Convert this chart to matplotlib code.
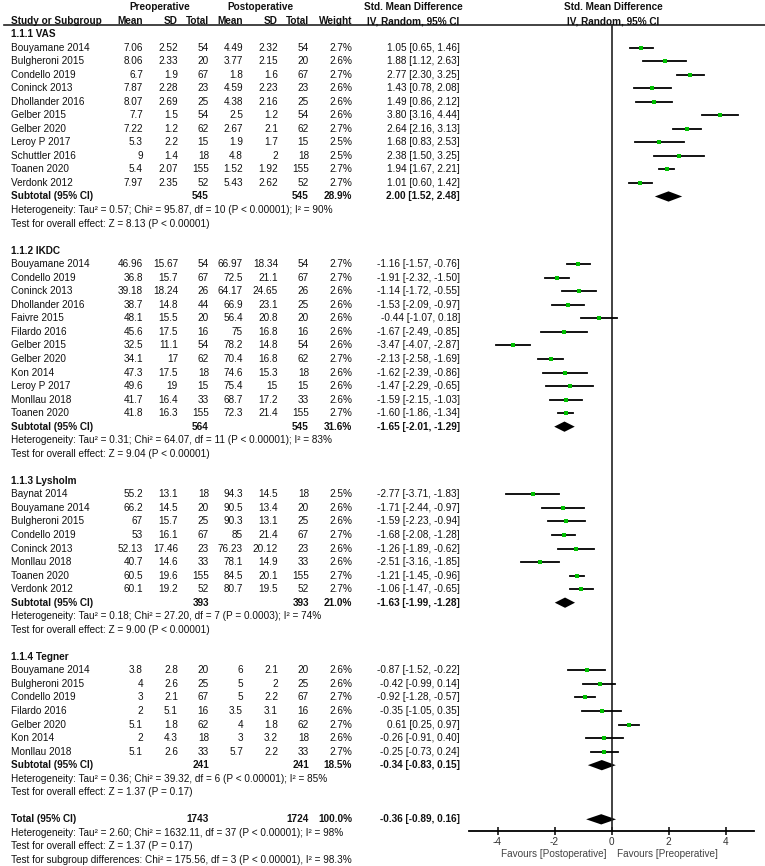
import matplotlib.pyplot as plt

plt.rcParams['font.family'] = ['Liberation Sans', 'DejaVu Sans']

# 1.1.1 VAS
vas_study = ['Bouyamane 2014', 'Bulgheroni 2015', 'Condello 2019', 'Coninck 2013', 'Dhollander 2016',
             'Gelber 2015', 'Gelber 2020', 'Leroy P 2017', 'Schuttler 2016', 'Toanen 2020', 'Verdonk 2012']
vas_pre_mean = [7.06, 8.06, 6.7, 7.87, 8.07, 7.7, 7.22, 5.3, 9, 5.4, 7.97]
vas_pre_sd = [2.52, 2.33, 1.9, 2.28, 2.69, 1.5, 1.2, 2.2, 1.4, 2.07, 2.35]
vas_pre_n = [54, 20, 67, 23, 25, 54, 62, 15, 18, 155, 52]
vas_post_mean = [4.49, 3.77, 1.8, 4.59, 4.38, 2.5, 2.67, 1.9, 4.8, 1.52, 5.43]
vas_post_sd = [2.32, 2.15, 1.6, 2.23, 2.16, 1.2, 2.1, 1.7, 2, 1.92, 2.62]
vas_post_n = [54, 20, 67, 23, 25, 54, 62, 15, 18, 155, 52]
vas_weight = [2.7, 2.6, 2.7, 2.6, 2.6, 2.6, 2.7, 2.5, 2.5, 2.7, 2.7]
vas_smd = [1.05, 1.88, 2.77, 1.43, 1.49, 3.80, 2.64, 1.68, 2.38, 1.94, 1.01]
vas_lo = [0.65, 1.12, 2.30, 0.78, 0.86, 3.16, 2.16, 0.83, 1.50, 1.67, 0.60]
vas_hi = [1.46, 2.63, 3.25, 2.08, 2.12, 4.44, 3.13, 2.53, 3.25, 2.21, 1.42]
vas_sub = [545, 545, 28.9, 2.00, 1.52, 2.48]

# 1.1.2 IKDC
ikdc_study = ['Bouyamane 2014', 'Condello 2019', 'Coninck 2013', 'Dhollander 2016', 'Faivre 2015', 'Filardo 2016',
              'Gelber 2015', 'Gelber 2020', 'Kon 2014', 'Leroy P 2017', 'Monllau 2018', 'Toanen 2020']
ikdc_pre_mean = [46.96, 36.8, 39.18, 38.7, 48.1, 45.6, 32.5, 34.1, 47.3, 49.6, 41.7, 41.8]
ikdc_pre_sd = [15.67, 15.7, 18.24, 14.8, 15.5, 17.5, 11.1, 17, 17.5, 19, 16.4, 16.3]
ikdc_pre_n = [54, 67, 26, 44, 20, 16, 54, 62, 18, 15, 33, 155]
ikdc_post_mean = [66.97, 72.5, 64.17, 66.9, 56.4, 75, 78.2, 70.4, 74.6, 75.4, 68.7, 72.3]
ikdc_post_sd = [18.34, 21.1, 24.65, 23.1, 20.8, 16.8, 14.8, 16.8, 15.3, 15, 17.2, 21.4]
ikdc_post_n = [54, 67, 26, 25, 20, 16, 54, 62, 18, 15, 33, 155]
ikdc_weight = [2.7, 2.7, 2.6, 2.6, 2.6, 2.6, 2.6, 2.7, 2.6, 2.6, 2.6, 2.7]
ikdc_smd = [-1.16, -1.91, -1.14, -1.53, -0.44, -1.67, -3.47, -2.13, -1.62, -1.47, -1.59, -1.60]
ikdc_lo = [-1.57, -2.32, -1.72, -2.09, -1.07, -2.49, -4.07, -2.58, -2.39, -2.29, -2.15, -1.86]
ikdc_hi = [-0.76, -1.50, -0.55, -0.97, 0.18, -0.85, -2.87, -1.69, -0.86, -0.65, -1.03, -1.34]
ikdc_sub = [564, 545, 31.6, -1.65, -2.01, -1.29]

# 1.1.3 Lysholm
lys_study = ['Baynat 2014', 'Bouyamane 2014', 'Bulgheroni 2015', 'Condello 2019', 'Coninck 2013',
             'Monllau 2018', 'Toanen 2020', 'Verdonk 2012']
lys_pre_mean = [55.2, 66.2, 67, 53, 52.13, 40.7, 60.5, 60.1]
lys_pre_sd = [13.1, 14.5, 15.7, 16.1, 17.46, 14.6, 19.6, 19.2]
lys_pre_n = [18, 20, 25, 67, 23, 33, 155, 52]
lys_post_mean = [94.3, 90.5, 90.3, 85, 76.23, 78.1, 84.5, 80.7]
lys_post_sd = [14.5, 13.4, 13.1, 21.4, 20.12, 14.9, 20.1, 19.5]
lys_post_n = [18, 20, 25, 67, 23, 33, 155, 52]
lys_weight = [2.5, 2.6, 2.6, 2.7, 2.6, 2.6, 2.7, 2.7]
lys_smd = [-2.77, -1.71, -1.59, -1.68, -1.26, -2.51, -1.21, -1.06]
lys_lo = [-3.71, -2.44, -2.23, -2.08, -1.89, -3.16, -1.45, -1.47]
lys_hi = [-1.83, -0.97, -0.94, -1.28, -0.62, -1.85, -0.96, -0.65]
lys_sub = [393, 393, 21.0, -1.63, -1.99, -1.28]

# 1.1.4 Tegner
teg_study = ['Bouyamane 2014', 'Bulgheroni 2015', 'Condello 2019', 'Filardo 2016', 'Gelber 2020',
             'Kon 2014', 'Monllau 2018']
teg_pre_mean = [3.8, 4, 3, 2, 5.1, 2, 5.1]
teg_pre_sd = [2.8, 2.6, 2.1, 5.1, 1.8, 4.3, 2.6]
teg_pre_n = [20, 25, 67, 16, 62, 18, 33]
teg_post_mean = [6, 5, 5, 3.5, 4, 3, 5.7]
teg_post_sd = [2.1, 2, 2.2, 3.1, 1.8, 3.2, 2.2]
teg_post_n = [20, 25, 67, 16, 62, 18, 33]
teg_weight = [2.6, 2.6, 2.7, 2.6, 2.7, 2.6, 2.7]
teg_smd = [-0.87, -0.42, -0.92, -0.35, 0.61, -0.26, -0.25]
teg_lo = [-1.52, -0.99, -1.28, -1.05, 0.25, -0.91, -0.73]
teg_hi = [-0.22, 0.14, -0.57, 0.35, 0.97, 0.40, 0.24]
teg_sub = [241, 241, 18.5, -0.34, -0.83, 0.15]

total = [1743, 1724, 100.0, -0.36, -0.89, 0.16]

groups = [
    ('1.1.1 VAS', vas_study, vas_pre_mean, vas_pre_sd, vas_pre_n, vas_post_mean, vas_post_sd, vas_post_n,
     vas_weight, vas_smd, vas_lo, vas_hi, vas_sub,
     'Heterogeneity: Tau² = 0.57; Chi² = 95.87, df = 10 (P < 0.00001); I² = 90%',
     'Test for overall effect: Z = 8.13 (P < 0.00001)'),
    ('1.1.2 IKDC', ikdc_study, ikdc_pre_mean, ikdc_pre_sd, ikdc_pre_n, ikdc_post_mean, ikdc_post_sd, ikdc_post_n,
     ikdc_weight, ikdc_smd, ikdc_lo, ikdc_hi, ikdc_sub,
     'Heterogeneity: Tau² = 0.31; Chi² = 64.07, df = 11 (P < 0.00001); I² = 83%',
     'Test for overall effect: Z = 9.04 (P < 0.00001)'),
    ('1.1.3 Lysholm', lys_study, lys_pre_mean, lys_pre_sd, lys_pre_n, lys_post_mean, lys_post_sd, lys_post_n,
     lys_weight, lys_smd, lys_lo, lys_hi, lys_sub,
     'Heterogeneity: Tau² = 0.18; Chi² = 27.20, df = 7 (P = 0.0003); I² = 74%',
     'Test for overall effect: Z = 9.00 (P < 0.00001)'),
    ('1.1.4 Tegner', teg_study, teg_pre_mean, teg_pre_sd, teg_pre_n, teg_post_mean, teg_post_sd, teg_post_n,
     teg_weight, teg_smd, teg_lo, teg_hi, teg_sub,
     'Heterogeneity: Tau² = 0.36; Chi² = 39.32, df = 6 (P < 0.00001); I² = 85%',
     'Test for overall effect: Z = 1.37 (P = 0.17)'),
]
total_notes = ['Heterogeneity: Tau² = 2.60; Chi² = 1632.11, df = 37 (P < 0.00001); I² = 98%',
               'Test for overall effect: Z = 1.37 (P = 0.17)',
               'Test for subgroup differences: Chi² = 175.56, df = 3 (P < 0.00001), I² = 98.3%']

W, H = 765, 866
ROW0, ROWH = 34, 13.54   # pixel y of first row, row height


def row(p):
    return (p - ROW0) / ROWH


FS = 7.2
TXT = '#111111'
GREEN = '#00c000'
cols = [143, 178, 209, 243, 278, 309, 352]   # right edges of numeric columns
CI_X = 460
AX_L, AX_R, AX_Y = 469, 754, 831

fig = plt.figure(figsize=(W / 100, H / 100), dpi=100)
tax = fig.add_axes([0, 0, 1, 1])
tax.set_xlim(0, W)
tax.set_ylim(row(H), row(0))
tax.axis('off')

fax = fig.add_axes([AX_L / W, (H - AX_Y) / H, (AX_R - AX_L) / W, AX_Y / H])
fax.set_xlim(-5, 5)
fax.set_ylim(row(AX_Y), row(0))
fax.patch.set_alpha(0)
for s in ['top', 'left', 'right']:
    fax.spines[s].set_visible(False)
fax.spines['bottom'].set_linewidth(1.3)
fax.set_yticks([])
fax.set_xticks([-4, -2, 0, 2, 4])
fax.set_xticklabels(['-4', '-2', '0', '2', '4'])
fax.tick_params(axis='x', direction='inout', length=6, width=1.1, labelsize=FS, pad=1.5, labelcolor='#333333')


def t(x, r, s, ha='left', bold=False, color=TXT):
    tax.text(x, r, s, ha=ha, va='center', fontsize=FS, color=color,
             fontweight='bold' if bold else 'normal')


# header
t(160, row(7), 'Preoperative', ha='center', bold=True)
t(260, row(7), 'Postoperative', ha='center', bold=True)
t(413, row(7), 'Std. Mean Difference', ha='center', bold=True)
t(613, row(7), 'Std. Mean Difference', ha='center', bold=True)
t(11, row(21), 'Study or Subgroup', bold=True)
for x, s in zip(cols, ['Mean', 'SD', 'Total', 'Mean', 'SD', 'Total', 'Weight']):
    t(x, row(21), s, ha='right', bold=True)
t(413, row(21), 'IV, Random, 95% CI', ha='center', bold=True)
t(613, row(21), 'IV, Random, 95% CI', ha='center', bold=True)
tax.plot([4, W], [row(25), row(25)], color='#222222', lw=1.2)

fax.plot([0, 0], [row(25), row(AX_Y)], color='#222222', lw=1.2, clip_on=False)


def diamond(r, e, lo, hi):
    fax.fill([lo, e, hi, e], [r, r - 0.38, r, r + 0.38], color='black', lw=0)


r = 0
for g in groups:
    title, study, pm, psd, pn, qm, qsd, qn, wt, smd, lo, hi, sub, het, z = g
    t(11, r, title, bold=True)
    r += 1
    for i in range(len(study)):
        t(11, r, study[i])
        vals = [f'{pm[i]:g}', f'{psd[i]:g}', f'{pn[i]}', f'{qm[i]:g}', f'{qsd[i]:g}', f'{qn[i]}', f'{wt[i]:.1f}%']
        for x, s in zip(cols, vals):
            t(x, r, s, ha='right')
        t(CI_X, r, f'{smd[i]:.2f} [{lo[i]:.2f}, {hi[i]:.2f}]', ha='right')
        fax.plot([lo[i], hi[i]], [r, r], color='black', lw=1.3)
        fax.plot(smd[i], r, 's', color=GREEN, ms=2.2, mew=0)
        r += 1
    t(11, r, 'Subtotal (95% CI)', bold=True)
    t(cols[2], r, f'{sub[0]}', ha='right', bold=True)
    t(cols[5], r, f'{sub[1]}', ha='right', bold=True)
    t(cols[6], r, f'{sub[2]:.1f}%', ha='right', bold=True)
    t(CI_X, r, f'{sub[3]:.2f} [{sub[4]:.2f}, {sub[5]:.2f}]', ha='right', bold=True)
    diamond(r, sub[3], sub[4], sub[5])
    t(11, r + 1, het)
    t(11, r + 2, z)
    r += 4

t(11, r, 'Total (95% CI)', bold=True)
t(cols[2], r, f'{total[0]}', ha='right', bold=True)
t(cols[5], r, f'{total[1]}', ha='right', bold=True)
t(cols[6], r, f'{total[2]:.1f}%', ha='right', bold=True)
t(CI_X, r, f'{total[3]:.2f} [{total[4]:.2f}, {total[5]:.2f}]', ha='right', bold=True)
diamond(r, total[3], total[4], total[5])
for k, s in enumerate(total_notes):
    t(11, r + 1 + k, s)

t(607, row(854), 'Favours [Postoperative]', ha='right', color='#444444')
t(617, row(854), 'Favours [Preoperative]', color='#444444')

fig.savefig('out.png', dpi=100)
